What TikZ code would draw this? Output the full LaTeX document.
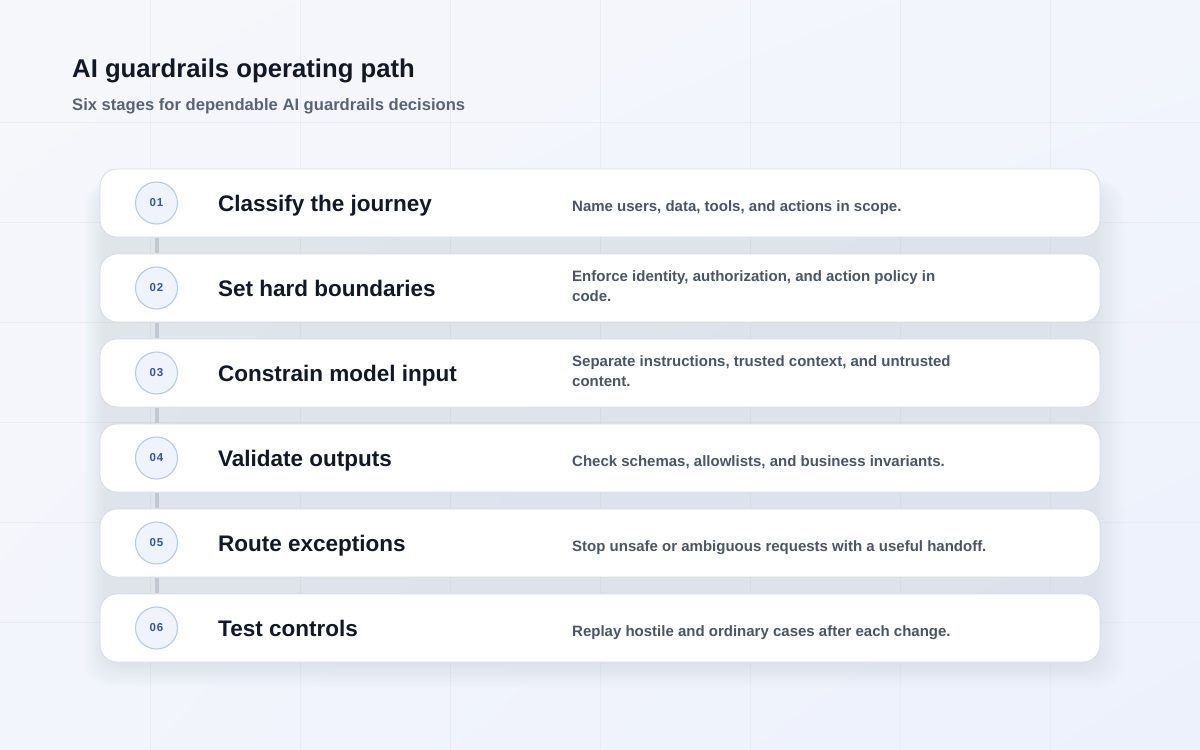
\documentclass[tikz,border=0pt]{standalone}
\usepackage{fontspec}
\setmainfont{Liberation Sans}
\usetikzlibrary{shadings}
\definecolor{bgA}{HTML}{F6F7FB}
\definecolor{bgB}{HTML}{F2F5FC}
\definecolor{bgC}{HTML}{F3F5FC}
\definecolor{bgD}{HTML}{ECF1FC}
\definecolor{gridc}{HTML}{E9ECF3}
\definecolor{shadowc}{HTML}{99A1B3}
\definecolor{borderc}{HTML}{D6DBE5}
\definecolor{circfill}{HTML}{EEF3FC}
\definecolor{circdraw}{HTML}{B8CAE6}
\definecolor{numc}{HTML}{34559F}
\definecolor{titlec}{HTML}{121826}
\definecolor{subc}{HTML}{5A6374}
\definecolor{descc}{HTML}{4B5563}
\definecolor{linkc}{HTML}{C3C7CF}
\tikzset{
  gridline/.style={draw=gridc, line width=0.7pt},
  card/.style={draw=borderc, line width=0.8pt, fill=white, rounded corners=17pt,
    minimum width=1000pt, minimum height=68pt, inner sep=0pt},
  numcirc/.style={circle, draw=circdraw, line width=1.1pt, fill=circfill,
    minimum size=42pt, inner sep=0pt, text=numc,
    font=\fontsize{11.5}{13}\selectfont\bfseries\addfontfeature{LetterSpace=8}},
  steptitle/.style={anchor=base west, inner sep=0pt, text=titlec,
    font=\fontsize{22.5}{27}\selectfont\bfseries},
  stepdesc/.style={anchor=base west, inner sep=0pt, text=descc,
    font=\fontsize{15}{19.5}\selectfont\bfseries},
  link/.style={draw=linkc, line width=4pt},
}
\newcommand{\descbox}[1]{\parbox[t]{460pt}{\raggedright #1}}
\begin{document}
\begin{tikzpicture}[x=1pt,y=-1pt]
\useasboundingbox (0,0) rectangle (1200,750);
\shade[upper left=bgA, upper right=bgB, lower left=bgC, lower right=bgD] (0,0) rectangle (1200,750);
\foreach \gx in {150,300,...,1050} \draw[gridline] (\gx,0) -- (\gx,750);
\foreach \gy in {122,222,...,622} \draw[gridline] (0,\gy) -- (1200,\gy);
% soft shadow behind the stack, cast down and to the right
\foreach \k in {0,1.5,...,24}
  \fill[shadowc, opacity=0.013, rounded corners=24pt] (104-0.8*\k,186-0.2*\k) rectangle (1096+1.2*\k,666+0.9*\k);
% title
\node[anchor=base west, inner sep=0pt, text=titlec, font=\fontsize{25.7}{30}\selectfont\bfseries] (title) at (72,77) {AI guardrails operating path};
\node[anchor=base west, inner sep=0pt, text=subc, font=\fontsize{16.6}{20}\selectfont\bfseries] (subtitle) at (72,110) {Six stages for dependable AI guardrails decisions};
% cards
\foreach \i/\t in {1/Classify the journey, 2/Set hard boundaries, 3/Constrain model input,
  4/Validate outputs, 5/Route exceptions, 6/Test controls} {
  \pgfmathsetmacro{\cy}{203+85*(\i-1)}
  \node[card] (card\i) at (600,\cy) {};
  \node[numcirc] (num\i) at (156.5,\cy) {0\i};
  \node[steptitle] (ttl\i) at (218,\cy+8.7) {\t};
}
% descriptions
\node[stepdesc] (desc1) at (572,203+8.7) {\descbox{Name users, data, tools, and actions in scope.}};
\node[stepdesc] (desc2) at (572,288-6.3) {\descbox{Enforce identity, authorization, and action policy in\\code.}};
\node[stepdesc] (desc3) at (572,373-6.3) {\descbox{Separate instructions, trusted context, and untrusted\\content.}};
\node[stepdesc] (desc4) at (572,458+8.7) {\descbox{Check schemas, allowlists, and business invariants.}};
\node[stepdesc] (desc5) at (572,543+8.7) {\descbox{Stop unsafe or ambiguous requests with a useful handoff.}};
\node[stepdesc] (desc6) at (572,628+8.7) {\descbox{Replay hostile and ordinary cases after each change.}};
% connectors between step markers
\foreach \a/\b in {1/2,2/3,3/4,4/5,5/6}
  \draw[link] ([yshift=-0.6pt]card\a.south -| num\a.center) -- ([yshift=0.6pt]card\b.north -| num\b.center);
\end{tikzpicture}
\end{document}
